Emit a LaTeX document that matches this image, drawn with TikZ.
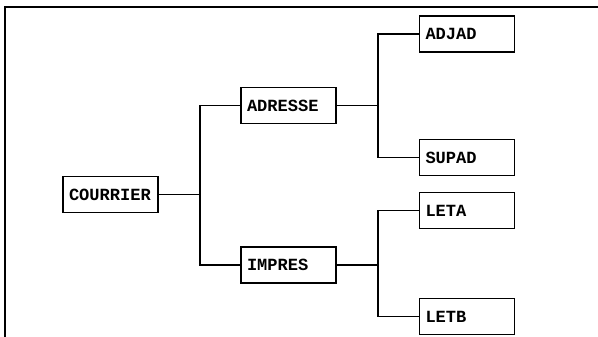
\documentclass[tikz,border=0pt]{standalone}
\usepackage{fontspec}
\setmonofont{Liberation Mono}
\usepackage{tikz}

\begin{document}
\begin{tikzpicture}[x=.02cm,y=.02cm,every node/.style={draw,line width=.6pt,
   minimum height=.72cm,text width=1.66cm,inner xsep=.12cm,align=left,
   font=\ttfamily\bfseries\fontsize{9.7}{11}\selectfont}]
  \useasboundingbox (0,0) rectangle (598,337);
  \draw[line width=1.2pt] (5,0) -- (5,330) -- (598,330);

  \node (courrier) at (110.5,142.5) {COURRIER};
  \node (adresse) at (288.5,231.5) {ADRESSE};
  \node (impres) at (288.5,72)    {IMPRES};
  \node (adjad) at (467,303)      {ADJAD};
  \node (supad) at (467,179.5)    {SUPAD};
  \node (leta) at (467,126.5)     {LETA};
  \node (letb) at (467,20.5)      {LETB};

  \foreach \from/\to in {courrier/adresse,courrier/impres,adresse/adjad,
                         adresse/supad,impres/leta,impres/letb}
    \draw[line width=.8pt] (\from.east) -- ++(41.5,0) |- (\to.west);

\end{tikzpicture}
\end{document}
